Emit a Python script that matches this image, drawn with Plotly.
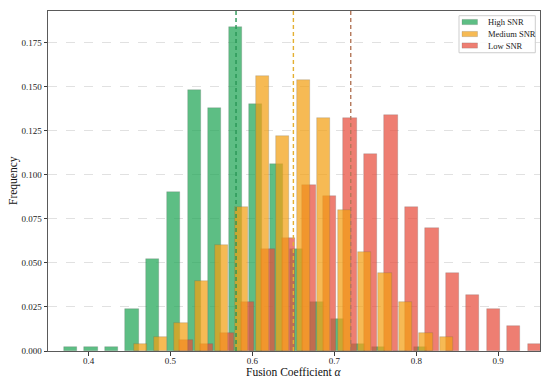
import plotly.graph_objects as go

# ---- data ----
high_x = [0.378, 0.403, 0.428, 0.453, 0.478, 0.504, 0.529, 0.554, 0.579, 0.604,
          0.629, 0.654, 0.679, 0.704, 0.729, 0.754, 0.780, 0.805]
high_y = [0.002, 0.002, 0.002, 0.024, 0.052, 0.090, 0.148, 0.138, 0.184, 0.140,
          0.106, 0.058, 0.028, 0.018, 0.004, 0.002, 0.000, 0.002]

med_x = [0.463, 0.488, 0.513, 0.538, 0.562, 0.587, 0.612, 0.637, 0.662, 0.687,
         0.712, 0.737, 0.762, 0.787, 0.812, 0.837]
med_y = [0.004, 0.008, 0.016, 0.040, 0.060, 0.082, 0.156, 0.122, 0.154, 0.132,
         0.080, 0.056, 0.044, 0.028, 0.010, 0.008]

low_x = [0.519, 0.544, 0.569, 0.594, 0.619, 0.644, 0.669, 0.694, 0.719, 0.744,
         0.769, 0.794, 0.819, 0.844, 0.869, 0.894, 0.919, 0.944]
low_y = [0.006, 0.004, 0.010, 0.028, 0.058, 0.064, 0.094, 0.088, 0.132, 0.112,
         0.134, 0.082, 0.070, 0.044, 0.032, 0.024, 0.014, 0.004]

series_names = ["High SNR", "Medium SNR", "Low SNR"]
mean_values = [0.580, 0.650, 0.720]

y_ticks = [0.000, 0.025, 0.050, 0.075, 0.100, 0.125, 0.150, 0.175]
x_ticks = [0.4, 0.5, 0.6, 0.7, 0.8, 0.9]

x_title = "Fusion Coefficient <i>α</i>"
y_title = "Frequency"

# ---- styling / layout ----
FONT = "Liberation Serif"
OFF = 8                      # page body margin offset of the html page
W, H = 542, 372              # 8 + 542 = 550 visible window width
# target plot area in window pixels: x 48..540, y 11..350.7
L = 48 - OFF
T = 11 - OFF
R = W - (540 - OFF)
B = H - (350.7 - OFF)
PW, PH = W - L - R, H - T - B

def px2x(px):
    return (px - OFF - L) / PW

def py2y(py):
    return (H - B - (py - OFF)) / PH

bar_w = 0.0163
fills = ["rgba(30,165,85,0.72)", "rgba(243,160,18,0.72)", "rgba(231,76,60,0.72)"]
line_cols = ["rgb(40,150,85)", "rgb(228,176,50)", "rgb(180,120,90)"]
edge = dict(color="rgba(90,90,90,0.35)", width=0.6)

fig = go.Figure()
# draw order: green, red, yellow (yellow on top)
for xs, ys, col, nm in [(high_x, high_y, fills[0], series_names[0]),
                        (low_x, low_y, fills[2], series_names[2]),
                        (med_x, med_y, fills[1], series_names[1])]:
    fig.add_trace(go.Bar(x=xs, y=ys, width=bar_w, name=nm,
                         marker=dict(color=col, line=edge), showlegend=False))

for m, c in zip(mean_values, line_cols):
    fig.add_shape(type="line", xref="x", yref="paper", x0=m, x1=m, y0=0, y1=1,
                  line=dict(color=c, width=1.4, dash="4px,3px"), layer="above")

# manual legend (matplotlib-like)
fig.add_shape(type="rect", xref="paper", yref="paper",
              x0=px2x(459), x1=px2x(535.3), y0=py2y(52.7), y1=py2y(15.7),
              line=dict(color="rgb(205,205,205)", width=1),
              fillcolor="rgba(255,255,255,0.85)", layer="above")
row_y = [22, 34, 45.5]
for nm, col, yc in zip(series_names, fills, row_y):
    fig.add_shape(type="rect", xref="paper", yref="paper",
                  x0=px2x(462), x1=px2x(477.5), y0=py2y(yc + 2.6), y1=py2y(yc - 2.6),
                  line=dict(color="rgba(90,90,90,0.35)", width=0.6),
                  fillcolor=col, layer="above")
    fig.add_annotation(xref="paper", yref="paper", x=px2x(485.5), y=py2y(yc),
                       xanchor="left", yanchor="middle", showarrow=False,
                       text=nm, font=dict(family=FONT, size=8.5, color="#222"))

# axis titles
fig.add_annotation(xref="paper", yref="paper", x=0.5, y=py2y(372),
                   xanchor="center", yanchor="middle", showarrow=False,
                   text=x_title, font=dict(family=FONT, size=11.5, color="#111"),
                   borderpad=0)
fig.add_annotation(xref="paper", yref="paper", x=px2x(13), y=0.5,
                   xanchor="center", yanchor="middle", showarrow=False, textangle=-90,
                   text=y_title, font=dict(family=FONT, size=11.5, color="#111"),
                   borderpad=0)

axis_common = dict(
    showline=True, linecolor="rgb(90,90,90)", linewidth=1, mirror=True,
    ticks="outside", ticklen=3.5, tickwidth=0.8, tickcolor="rgb(60,60,60)",
    tickfont=dict(family=FONT, size=9, color="#222"),
    zeroline=False, automargin=False,
)

fig.update_layout(
    width=W, height=H,
    margin=dict(l=L, r=R, t=T, b=B),
    paper_bgcolor="white", plot_bgcolor="white",
    barmode="overlay", bargap=0,
    font=dict(family=FONT, color="#222"),
    showlegend=False,
    xaxis=dict(range=[0.3505, 0.951], tickvals=x_ticks, tickformat=".1f",
               showgrid=False, ticklabelstandoff=-2, **axis_common),
    yaxis=dict(range=[0, 0.193], tickvals=y_ticks, tickformat=".3f",
               showgrid=True, gridcolor="rgb(225,225,225)", gridwidth=0.7,
               griddash="dash", **axis_common),
)

fig.write_html("out.html")
